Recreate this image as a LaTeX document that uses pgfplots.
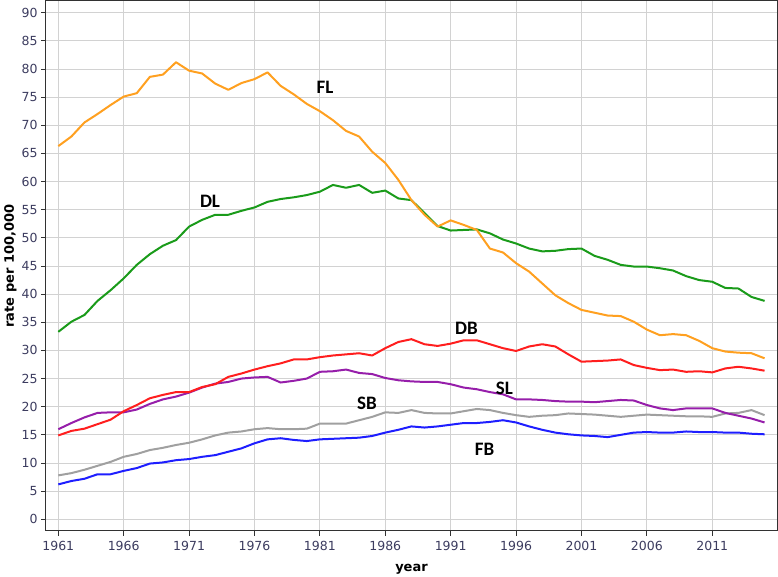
\documentclass[border=0pt]{standalone}
\usepackage{pgfplots}
\usepackage{pgfplotstable}
\pgfplotsset{compat=1.18}
\usepackage{fontspec}
\setmainfont{DejaVu Sans}
\newfontfamily\lblfont{Carlito}
\definecolor{cFL}{RGB}{255,160,32}
\definecolor{cDL}{RGB}{26,155,26}
\definecolor{cDB}{RGB}{255,30,30}
\definecolor{cSL}{RGB}{150,30,170}
\definecolor{cSB}{RGB}{160,160,160}
\definecolor{cFB}{RGB}{30,30,255}
\definecolor{tickc}{RGB}{60,60,95}
\definecolor{gridc}{RGB}{210,210,210}
\definecolor{framec}{RGB}{50,50,50}
\pgfplotstableread{
year FL DL DB SL SB FB
1961 66.3 33.3 14.9 16.0 7.8 6.2
1962 68.0 35.1 15.7 17.1 8.2 6.8
1963 70.5 36.3 16.1 18.1 8.8 7.2
1964 72.0 38.8 16.9 18.9 9.5 8.0
1965 73.6 40.7 17.7 19.0 10.2 8.0
1966 75.1 42.8 19.2 19.0 11.1 8.6
1967 75.7 45.2 20.3 19.5 11.6 9.1
1968 78.6 47.1 21.5 20.5 12.3 9.9
1969 79.0 48.6 22.1 21.3 12.7 10.1
1970 81.2 49.6 22.6 21.8 13.2 10.5
1971 79.7 52.0 22.6 22.5 13.6 10.7
1972 79.2 53.2 23.5 23.4 14.2 11.1
1973 77.4 54.1 24.0 24.1 14.9 11.4
1974 76.3 54.1 25.3 24.4 15.4 12.0
1975 77.5 54.8 25.9 25.0 15.6 12.6
1976 78.2 55.4 26.6 25.2 16.0 13.5
1977 79.4 56.4 27.2 25.3 16.2 14.2
1978 77.0 56.9 27.7 24.3 16.0 14.4
1979 75.5 57.2 28.4 24.6 16.0 14.1
1980 73.8 57.6 28.4 25.0 16.1 13.9
1981 72.5 58.2 28.8 26.2 17.0 14.2
1982 70.9 59.4 29.1 26.3 17.0 14.3
1983 69.0 58.9 29.3 26.6 17.0 14.4
1984 68.0 59.4 29.5 26.0 17.6 14.5
1985 65.3 58.0 29.1 25.8 18.2 14.8
1986 63.3 58.4 30.4 25.1 19.0 15.4
1987 60.3 57.0 31.5 24.7 18.9 15.9
1988 56.7 56.7 32.0 24.5 19.4 16.5
1989 54.1 54.4 31.1 24.4 18.9 16.3
1990 52.0 52.1 30.8 24.4 18.8 16.5
1991 53.1 51.3 31.2 24.0 18.8 16.8
1992 52.3 51.4 31.8 23.4 19.2 17.1
1993 51.4 51.5 31.8 23.1 19.6 17.1
1994 48.1 50.8 31.1 22.6 19.4 17.3
1995 47.4 49.7 30.4 22.2 18.9 17.6
1996 45.5 49.0 29.9 21.3 18.5 17.2
1997 44.0 48.1 30.7 21.3 18.2 16.5
1998 41.9 47.6 31.1 21.2 18.4 15.9
1999 39.8 47.7 30.7 21.0 18.5 15.4
2000 38.4 48.0 29.3 20.9 18.8 15.1
2001 37.2 48.1 28.0 20.9 18.7 14.9
2002 36.7 46.8 28.1 20.8 18.6 14.8
2003 36.2 46.1 28.2 21.0 18.4 14.6
2004 36.1 45.2 28.4 21.2 18.2 15.0
2005 35.1 44.9 27.4 21.1 18.4 15.4
2006 33.7 44.9 26.9 20.3 18.6 15.5
2007 32.7 44.6 26.5 19.7 18.5 15.4
2008 32.9 44.2 26.6 19.4 18.4 15.4
2009 32.7 43.2 26.2 19.7 18.3 15.6
2010 31.7 42.5 26.3 19.7 18.3 15.5
2011 30.4 42.2 26.1 19.7 18.2 15.5
2012 29.8 41.1 26.8 18.9 18.8 15.4
2013 29.6 41.0 27.1 18.4 18.9 15.4
2014 29.5 39.5 26.8 17.9 19.4 15.2
2015 28.6 38.8 26.4 17.2 18.5 15.1
}\data
\begin{document}
\begin{tikzpicture}
\useasboundingbox (-46pt,-46pt) rectangle (732pt,531pt);
\begin{axis}[
  at={(0pt,0pt)}, anchor=south west,
  scale only axis, width=731pt, height=530pt,
  xmin=1960.06, xmax=2015.95, ymin=-2.08, ymax=92.08,
  xtick={1961,1966,...,2011}, ytick={0,5,...,90},
  xtick pos=lower, ytick pos=left,
  tick align=outside, major tick length=5pt,
  tick style={framec, line width=0.8pt},
  grid=major, grid style={gridc, line width=0.9pt},
  axis line style={framec, line width=1pt},
  /pgf/number format/1000 sep={},
  /pgf/number format/assume math mode=true,
  ticklabel style={font=\fontsize{12.5}{14}\selectfont, text=tickc},
  xticklabel style={yshift=-2pt},
  xlabel={\bfseries year}, ylabel={\bfseries rate per 100,000},
  label style={font=\fontsize{13}{15}\selectfont},
  xlabel style={yshift=-6pt},
  ylabel style={yshift=-2pt},
  every axis plot/.append style={line width=2pt, no markers, line join=round},
  clip=false,
]
\addplot[cSB] table[x=year,y=SB]{\data};
\addplot[cFB] table[x=year,y=FB]{\data};
\addplot[cSL] table[x=year,y=SL]{\data};
\addplot[cDB] table[x=year,y=DB]{\data};
\addplot[cDL] table[x=year,y=DL]{\data};
\addplot[cFL] table[x=year,y=FL]{\data};
\begin{scope}[every node/.style={font=\lblfont\bfseries\fontsize{19}{20}\selectfont, text=black}]
\node at (axis cs:1981.4,76.8) {FL};
\node at (axis cs:1972.6,56.4) {DL};
\node at (axis cs:1992.2,34.0) {DB};
\node at (axis cs:1995.1,23.3) {SL};
\node at (axis cs:1984.6,20.6) {SB};
\node at (axis cs:1993.6,12.5) {FB};
\end{scope}
\end{axis}
\end{tikzpicture}
\end{document}
